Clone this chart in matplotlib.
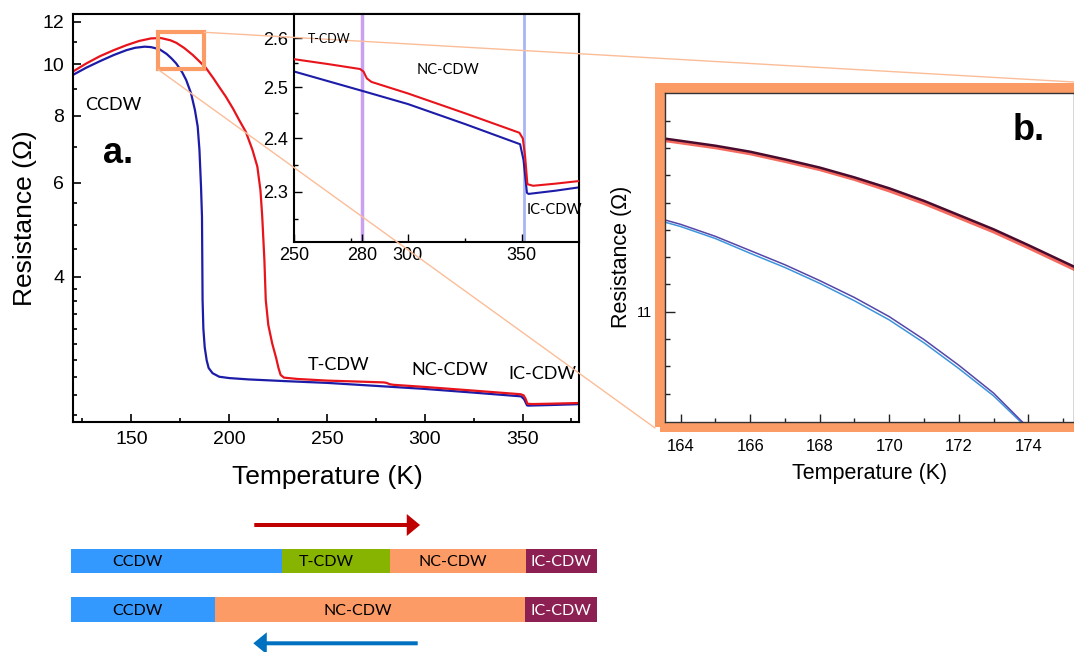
import matplotlib
matplotlib.use("Agg")
import matplotlib.pyplot as plt
from matplotlib.patches import Rectangle, FancyArrow, ConnectionPatch
from matplotlib.ticker import FixedLocator, NullFormatter, FuncFormatter

W, H = 1074, 652
plt.rcParams['font.family'] = ['Liberation Sans', 'DejaVu Sans']
LABEL_FONT = ['Lato', 'DejaVu Sans']

RED = "#e8141c"
BLUE = "#1c1ca8"
ORANGE = "#fb9b66"
THIN_ORANGE = "#fbbd98"

# --- panel a: R(T), heating (red) and cooling (blue) ---
heat_T = [120, 127, 134, 141, 147.5, 154, 160, 165, 170, 173, 177, 181.4, 185,
          188, 192, 195, 198.3, 202, 205, 208.5, 211.9, 214.4, 216, 216.9, 218,
          218.7, 220, 222, 224, 225.2, 226.3, 228, 235, 250, 265, 279, 280.5,
          282, 284, 300, 325, 349, 350.5, 351.5, 352.5, 355, 365, 380]
heat_R = [9.68, 10.03, 10.35, 10.62, 10.85, 11.05, 11.17, 11.19, 11.08, 10.96,
          10.72, 10.40, 10.10, 9.85, 9.40, 9.05, 8.69, 8.25, 7.87, 7.47, 6.91,
          6.43, 5.80, 5.18, 4.30, 3.62, 3.25, 3.00, 2.82, 2.70, 2.62, 2.59,
          2.575, 2.557, 2.547, 2.537, 2.532, 2.518, 2.511, 2.488, 2.449, 2.411,
          2.400, 2.366, 2.314, 2.311, 2.315, 2.322]
cool_T = [120, 127, 134, 141, 147.5, 152, 156.8, 160, 164.4, 168, 170.5, 172.9,
          176, 178, 180.5, 182.5, 183.9, 184.8, 185.6, 186.1, 186.4, 186.8,
          187.5, 188.5, 189.5, 191.5, 194.9, 200, 210, 230, 250, 280, 300, 325,
          349.3, 350.8, 352.3, 353, 365, 380]
cool_R = [9.54, 9.85, 10.13, 10.40, 10.62, 10.73, 10.78, 10.76, 10.66, 10.45,
          10.25, 10.03, 9.65, 9.34, 8.82, 8.20, 7.64, 6.91, 5.90, 5.18, 3.62,
          3.20, 2.95, 2.79, 2.70, 2.64, 2.60, 2.585, 2.57, 2.55, 2.532, 2.493,
          2.467, 2.428, 2.389, 2.359, 2.298, 2.296, 2.302, 2.311]

main_xticks = [150, 200, 250, 300, 350]
main_xminor = [125, 175, 225, 275, 325, 375]
main_yticks = [4, 6, 8, 10, 12]
main_yminor = [2.2, 2.4, 2.6, 2.8, 3.0, 3.2, 3.4, 3.6, 3.8, 4.5, 5, 5.5, 7, 9, 11]

inset_xticks = [250, 280, 300, 350]
inset_xminor = [275, 325]
inset_yticks = [2.3, 2.4, 2.5, 2.6]
inset_yminor = [2.25, 2.35, 2.45, 2.55]
transition_T = [280, 351]

zoom_T = (163.5, 187.3)
zoom_R = (9.78, 11.47)

# --- panel b: zoom near the maximum ---
b_T_red = [163.55, 164, 165, 166, 167, 168, 169, 170, 171, 172, 173, 174, 175, 175.3]
b_red_dark = [11.317, 11.313, 11.304, 11.293, 11.279, 11.264, 11.246, 11.226,
              11.203, 11.177, 11.151, 11.122, 11.092, 11.083]
b_red_light = [11.314, 11.310, 11.301, 11.290, 11.276, 11.261, 11.243, 11.222,
               11.199, 11.173, 11.147, 11.118, 11.088, 11.079]
b_T_blue = [163.55, 164, 165, 166, 167, 168, 169, 170, 171, 172, 173, 173.8, 174.2]
b_blue_dark = [11.168, 11.160, 11.138, 11.112, 11.086, 11.057, 11.026, 10.991,
               10.949, 10.902, 10.851, 10.800, 10.775]
b_blue_light = [11.164, 11.156, 11.134, 11.107, 11.081, 11.052, 11.020, 10.985,
                10.943, 10.896, 10.846, 10.797, 10.772]
b_xticks = [164, 166, 168, 170, 172, 174]
b_xminor = [165, 167, 169, 171, 173, 175]
b_yminor = [10.85, 10.9, 10.95, 11.05, 11.1, 11.15, 11.2, 11.25, 11.3, 11.35]

# --- phase bars (temperature scale of panel a) ---
heat_edges = [118.8, 227.0, 282.1, 351.6, 387.9]
heat_phases = ["CCDW", "T-CDW", "NC-CDW", "IC-CDW"]
heat_label_T = [153, 249.6, 314.3, 369.5]
cool_edges = [118.8, 192.6, 351.3, 387.9]
cool_phases = ["CCDW", "NC-CDW", "IC-CDW"]
cool_label_T = [153, 265.5, 369.5]
PHASE_COLORS = {"CCDW": "#3399ff", "T-CDW": "#86b400",
                "NC-CDW": "#fd9b66", "IC-CDW": "#8c2052"}
heat_arrow_T = (212.7, 297.5)
cool_arrow_T = (296.3, 212.2)


def fig_box(l, t, r, b):
    return [l / W, 1 - b / H, (r - l) / W, (b - t) / H]


def ptext(x, y, s, **kw):
    fig.text(x / W, 1 - y / H, s, **kw)


fmt_g = FuncFormatter(lambda v, p: f"{v:g}")

fig = plt.figure(figsize=(W / 100, H / 100), dpi=100)

# ---------------- panel a ----------------
ax = fig.add_axes(fig_box(72.7, 14, 579.3, 421.7))
ax.set_yscale('log')
ax.plot(cool_T, cool_R, color=BLUE, lw=1.6)
ax.plot(heat_T, heat_R, color=RED, lw=1.6)
ax.set_xlim(120, 379)
ax.set_ylim(2.142, 12.41)
ax.xaxis.set_major_locator(FixedLocator(main_xticks))
ax.xaxis.set_minor_locator(FixedLocator(main_xminor))
ax.yaxis.set_major_locator(FixedLocator(main_yticks))
ax.yaxis.set_minor_locator(FixedLocator(main_yminor))
ax.yaxis.set_major_formatter(fmt_g)
ax.yaxis.set_minor_formatter(NullFormatter())
ax.tick_params(which='both', direction='in', width=1.2, labelsize=14)
ax.tick_params(which='major', length=6)
ax.tick_params(which='minor', length=3)
ax.tick_params(axis='x', pad=7)
ax.tick_params(axis='y', pad=6)
for s in ax.spines.values():
    s.set_linewidth(1.5)
ax.set_xlabel("Temperature (K)", fontsize=19)
ax.set_ylabel("Resistance (\u03a9)", fontsize=19)
ax.xaxis.set_label_coords(0.502, -0.135)
ax.xaxis.label.set_verticalalignment('center')
ax.yaxis.set_label_coords(-0.094, 0.5)
ax.yaxis.label.set_verticalalignment('center')

ax.add_patch(Rectangle((zoom_T[0], zoom_R[0]), zoom_T[1] - zoom_T[0],
                       zoom_R[1] - zoom_R[0], fill=False, ec=ORANGE, lw=3, zorder=4))

# ---------------- inset ----------------
axi = fig.add_axes(fig_box(294, 14, 579.3, 241.7))
axi.set_yscale('log')
axi.axvline(transition_T[0], color="#c9a0f2", lw=2.5, zorder=1)
axi.axvline(transition_T[1], color="#aab4f5", lw=2.0, zorder=1)
axi.plot(cool_T, cool_R, color=BLUE, lw=1.5, zorder=2)
axi.plot(heat_T, heat_R, color=RED, lw=1.5, zorder=3)
axi.set_xlim(250, 375.3)
axi.set_ylim(2.21, 2.651)
axi.xaxis.set_major_locator(FixedLocator(inset_xticks))
axi.xaxis.set_minor_locator(FixedLocator(inset_xminor))
axi.yaxis.set_major_locator(FixedLocator(inset_yticks))
axi.yaxis.set_minor_locator(FixedLocator(inset_yminor))
axi.yaxis.set_major_formatter(fmt_g)
axi.yaxis.set_minor_formatter(NullFormatter())
axi.tick_params(which='both', direction='in', width=1.0, labelsize=13, pad=4)
axi.tick_params(which='major', length=6)
axi.tick_params(which='minor', length=3)
for s in axi.spines.values():
    s.set_linewidth(1.5)

# ---------------- panel b ----------------
axb = fig.add_axes(fig_box(665, 93.3, 1073.5, 422.3))
axb.plot(b_T_red, b_red_light, color="#f46a5e", lw=2.8)
axb.plot(b_T_red, b_red_dark, color="#4a0c2e", lw=1.8)
axb.plot(b_T_blue, b_blue_light, color="#3d94dc", lw=1.1)
axb.plot(b_T_blue, b_blue_dark, color="#5646a8", lw=1.1)
axb.set_xlim(163.55, 175.3)
axb.set_ylim(10.7975, 11.40)
axb.xaxis.set_major_locator(FixedLocator(b_xticks))
axb.xaxis.set_minor_locator(FixedLocator(b_xminor))
axb.yaxis.set_major_locator(FixedLocator([11]))
axb.yaxis.set_minor_locator(FixedLocator(b_yminor))
axb.yaxis.set_major_formatter(fmt_g)
axb.tick_params(which='both', direction='in', width=1.0, color='#222222')
axb.tick_params(axis='x', which='major', length=6, labelsize=12, pad=12)
axb.tick_params(axis='x', which='minor', length=3)
axb.tick_params(axis='y', which='major', length=7, labelsize=10.5, pad=9)
axb.tick_params(axis='y', which='minor', length=3.5)
for s in axb.spines.values():
    s.set_linewidth(1.0)
    s.set_color('#333333')
axb.set_xlabel("Temperature (K)", fontsize=15.5)
axb.set_ylabel("Resistance (\u03a9)", fontsize=15.5)
axb.xaxis.set_label_coords(0.5, -0.155)
axb.xaxis.label.set_verticalalignment('center')
axb.yaxis.set_label_coords(-0.106, 0.504)
axb.yaxis.label.set_verticalalignment('center')

fig.add_artist(Rectangle(((660) / W, 1 - 427 / H), (1085 - 660) / W, (427 - 88.3) / H,
                         transform=fig.transFigure, fill=False, ec=ORANGE,
                         lw=7.2, zorder=-1))

con1 = ConnectionPatch(xyA=(zoom_T[1], zoom_R[1]), coordsA=ax.transData,
                       xyB=(1.0, 1 - 82 / H), coordsB=fig.transFigure,
                       color=THIN_ORANGE, lw=1.0, zorder=6)
con2 = ConnectionPatch(xyA=(zoom_T[0], zoom_R[0]), coordsA=ax.transData,
                       xyB=(655 / W, 1 - 428 / H), coordsB=fig.transFigure,
                       color=THIN_ORANGE, lw=1.0, zorder=6)
fig.add_artist(con1)
fig.add_artist(con2)

# ---------------- text labels ----------------
ptext(85, 110, "CCDW", fontsize=13, family=LABEL_FONT, va='baseline')
ptext(103, 163.3, "a.", fontsize=26, weight='bold', va='baseline')
ptext(308, 370, "T-CDW", fontsize=13, family=LABEL_FONT, va='baseline')
ptext(411.7, 375, "NC-CDW", fontsize=13, family=LABEL_FONT, va='baseline')
ptext(508, 379.3, "IC-CDW", fontsize=13, family=LABEL_FONT, va='baseline')
ptext(308.3, 42.7, "T-CDW", fontsize=9, family=LABEL_FONT, va='baseline', zorder=7)
ptext(416.7, 74, "NC-CDW", fontsize=10.5, family=LABEL_FONT, va='baseline', zorder=7)
ptext(526.7, 214.3, "IC-CDW", fontsize=10.5, family=LABEL_FONT, va='baseline', zorder=7)
ptext(1013, 140, "b.", fontsize=26, weight='bold', va='baseline')

# ---------------- phase bars ----------------
axp = fig.add_axes(fig_box(60, 500, 610, 652))
axp.set_xlim(150 + (60 - 131.7) / 1.955, 150 + (610 - 131.7) / 1.955)
axp.set_ylim(652, 500)
axp.axis('off')
for edges, phases, lab_T, yc, hh in [(heat_edges, heat_phases, heat_label_T, 561.2, 24.3),
                                     (cool_edges, cool_phases, cool_label_T, 609.5, 25.6)]:
    for i, ph in enumerate(phases):
        axp.barh(yc, edges[i + 1] - edges[i], left=edges[i], height=hh,
                 color=PHASE_COLORS[ph], edgecolor='none')
        axp.text(lab_T[i], yc + 1, ph, ha='center', va='center', fontsize=11.5,
                 family=LABEL_FONT, color='white' if ph == "IC-CDW" else 'black')

axp.add_patch(FancyArrow(heat_arrow_T[0], 525, heat_arrow_T[1] - heat_arrow_T[0], 0,
                         width=4, head_width=22, head_length=6.8,
                         length_includes_head=True, color="#c00000", lw=0))
axp.add_patch(FancyArrow(cool_arrow_T[0], 643.3, cool_arrow_T[1] - cool_arrow_T[0], 0,
                         width=4, head_width=22, head_length=6.9,
                         length_includes_head=True, color="#0070c0", lw=0))

fig.savefig("out.png", dpi=100)
